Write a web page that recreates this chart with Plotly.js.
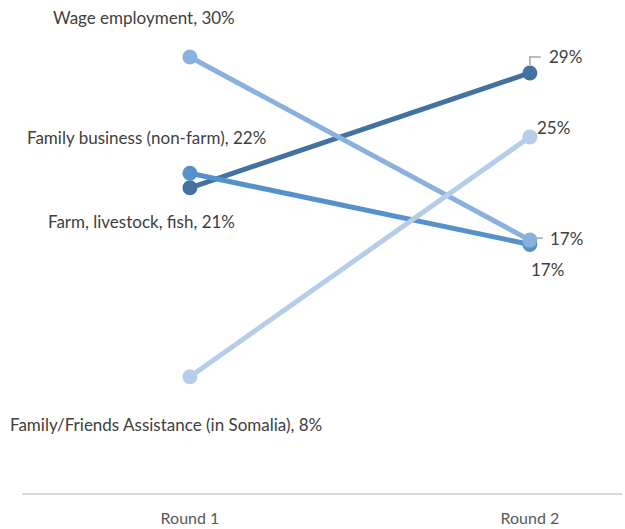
<!DOCTYPE html>
<html>
<head>
<meta charset="utf-8">
<script src="https://cdn.plot.ly/plotly-3.0.1.min.js"></script>
<style>html,body{margin:0;padding:0;background:#fff;}#chart{width:625px;height:529px;}</style>
</head>
<body>
<div id="chart"></div>
<script>
// Data (drawing order: bottom to top)
const rounds = ["Round 1", "Round 2"];
const seriesNames = ["Farm, livestock, fish", "Family business (non-farm)", "Wage employment", "Family/Friends Assistance (in Somalia)"];
const round1 = [21.0, 22.0, 30.0, 8.0];
const round2 = [28.9, 17.1, 17.4, 24.5];

// Styles / label placement (pixels)
const colors = ["#44729F", "#5592CC", "#8AB1DE", "#B6CDE9"];
const r1Label = [{dx: -48, dy: 34}, {dx: -43, dy: -36}, {dx: -46, dy: -39}, {dx: -24, dy: 48}];
const r2Label = [{dx: 36, dy: -16, leader: true}, {dx: 18, dy: 25}, {dx: 37, dy: -2, leader: true}, {dx: 24, dy: -9}];

const xpos = [0, 1];
const traces = seriesNames.map((n, i) => ({
  type: "scatter", mode: "lines+markers",
  x: xpos, y: [round1[i], round2[i]],
  line: {color: colors[i], width: 5},
  marker: {color: colors[i], size: 15},
  hoverinfo: "skip", showlegend: false, cliponaxis: false
}));

const font = {family: "Lato, 'Open Sans', sans-serif", size: 17, color: "#404040"};
const annotations = [];
const shapes = [];
seriesNames.forEach((n, i) => {
  annotations.push({
    x: xpos[0], y: round1[i], xref: "x", yref: "y",
    text: n + ", " + Math.round(round1[i]) + "%",
    showarrow: false, xshift: r1Label[i].dx, yshift: -r1Label[i].dy,
    font: font, xanchor: "center", yanchor: "middle"
  });
  annotations.push({
    x: xpos[1], y: round2[i], xref: "x", yref: "y",
    text: Math.round(round2[i]) + "%",
    showarrow: false, xshift: r2Label[i].dx, yshift: -r2Label[i].dy,
    font: font, xanchor: "center", yanchor: "middle"
  });
  if (r2Label[i].leader) {
    const dy = r2Label[i].dy;
    const path = dy < -5
      ? `M0,8 L0,${-dy} L11,${-dy}`
      : `M0,2 L13,2`;
    shapes.push({
      type: "path", xref: "x", yref: "y",
      xsizemode: "pixel", ysizemode: "pixel",
      xanchor: xpos[1], yanchor: round2[i],
      path: path, line: {color: "#A6A6A6", width: 1.5}, layer: "below"
    });
  }
});

const layout = {
  width: 625, height: 529,
  margin: {l: 22, r: 3, t: 10, b: 36},
  paper_bgcolor: "#ffffff", plot_bgcolor: "#ffffff",
  showlegend: false,
  xaxis: {
    range: [-0.494, 1.271], tickvals: xpos, ticktext: rounds,
    showgrid: false, zeroline: false, showline: true, linecolor: "#D9D9D9", linewidth: 1.5,
    ticks: "", ticklabelstandoff: 10, automargin: false,
    tickfont: {family: "Lato, 'Open Sans', sans-serif", size: 16, color: "#595959"},
    fixedrange: true
  },
  yaxis: {
    range: [0, 33.23], visible: false, showgrid: false, zeroline: false, fixedrange: true
  },
  annotations: annotations,
  shapes: shapes
};

Plotly.newPlot("chart", traces, layout, {displayModeBar: false, staticPlot: true});
</script>
</body>
</html>
